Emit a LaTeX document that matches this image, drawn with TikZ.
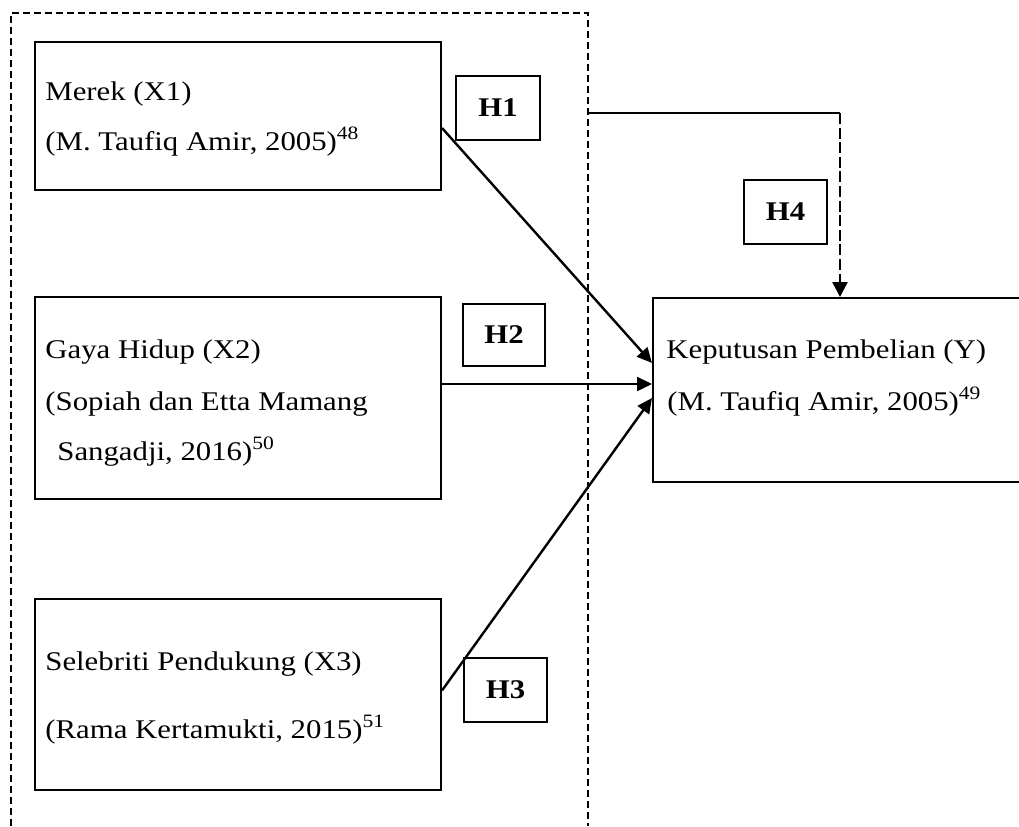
\documentclass[tikz,border=0pt]{standalone}
\usepackage{fontspec}
\setmainfont{Liberation Serif}[FakeStretch=1.14]
\usetikzlibrary{arrows.meta}
\begin{document}
\begin{tikzpicture}[x=0.5pt,y=-0.5pt,
  box/.style={draw, line width=1pt, anchor=north west, inner sep=0pt},
  hbox/.style={draw, line width=1pt, anchor=north west, inner sep=0pt,
    font=\fontsize{13.5pt}{16pt}\selectfont\bfseries},
  txt/.style={anchor=base west, inner sep=0pt, font=\fontsize{13.5pt}{16pt}\selectfont},
  outer/.style={line width=0.6pt, dash pattern=on 3.5pt off 2pt},
  conn/.style={line width=1.2pt, -{Triangle[length=7.5pt,width=7pt]}},
  dconn/.style={line width=1.2pt, dash pattern=on 5.5pt off 1.8pt, -{Triangle[length=7.5pt,width=7.5pt]}}
]
\useasboundingbox (0,0) rectangle (1019,826);

% outer dashed frame (open at the bottom)
\draw[outer] (11,826) -- (11,13) -- (588,13) -- (588,826);

% variable boxes
\node[box, minimum width=203pt, minimum height=74pt] (x1) at (34,41) {};
\node[box, minimum width=203pt, minimum height=101pt] (x2) at (34,296) {};
\node[box, minimum width=203pt, minimum height=95.5pt] (x3) at (34,598) {};
\node[box, minimum width=200pt, minimum height=92pt] (y) at (652,297) {};

% texts
\node[txt] (t11) at (45,100) {Merek (X1)};
\node[txt] (t12) at (45,150) {(M. Taufiq Amir, 2005)\textsuperscript{48}};
\node[txt] (t21) at (45,358) {Gaya Hidup (X2)};
\node[txt] (t22) at (45,410) {(Sopiah dan Etta Mamang};
\node[txt] (t23) at (57,460) {Sangadji, 2016)\textsuperscript{50}};
\node[txt] (t31) at (45,670) {Selebriti Pendukung (X3)};
\node[txt] (t32) at (45,738) {(Rama Kertamukti, 2015)\textsuperscript{51}};
\node[txt] (ty1) at (666,358) {Keputusan Pembelian (Y)};
\node[txt] (ty2) at (667,410) {(M. Taufiq Amir, 2005)\textsuperscript{49}};

% hypothesis labels
\node[hbox, minimum width=42pt, minimum height=32pt] (h1) at (455,75) {H1};
\node[hbox, minimum width=41pt, minimum height=31pt] (h2) at (462,303) {H2};
\node[hbox, minimum width=41.5pt, minimum height=32pt] (h3) at (463,657) {H3};
\node[hbox, minimum width=41.5pt, minimum height=32pt] (h4) at (743,179) {H4};

% connectors
\draw[conn] ([yshift=-6pt]x1.east) -- ([yshift=13.5pt]y.west);
\draw[conn] ([yshift=7pt]x2.east) -- ([yshift=3pt]y.west);
\draw[conn] ([yshift=2pt]x3.east) -- ([yshift=-4pt]y.west);

\coordinate (h4s) at (588,113);
\coordinate (h4c) at (840,113);
\draw[line width=1pt] (h4s) -- (h4c);
\draw[dconn] (h4c) -- (h4c |- y.north);
\end{tikzpicture}
\end{document}
